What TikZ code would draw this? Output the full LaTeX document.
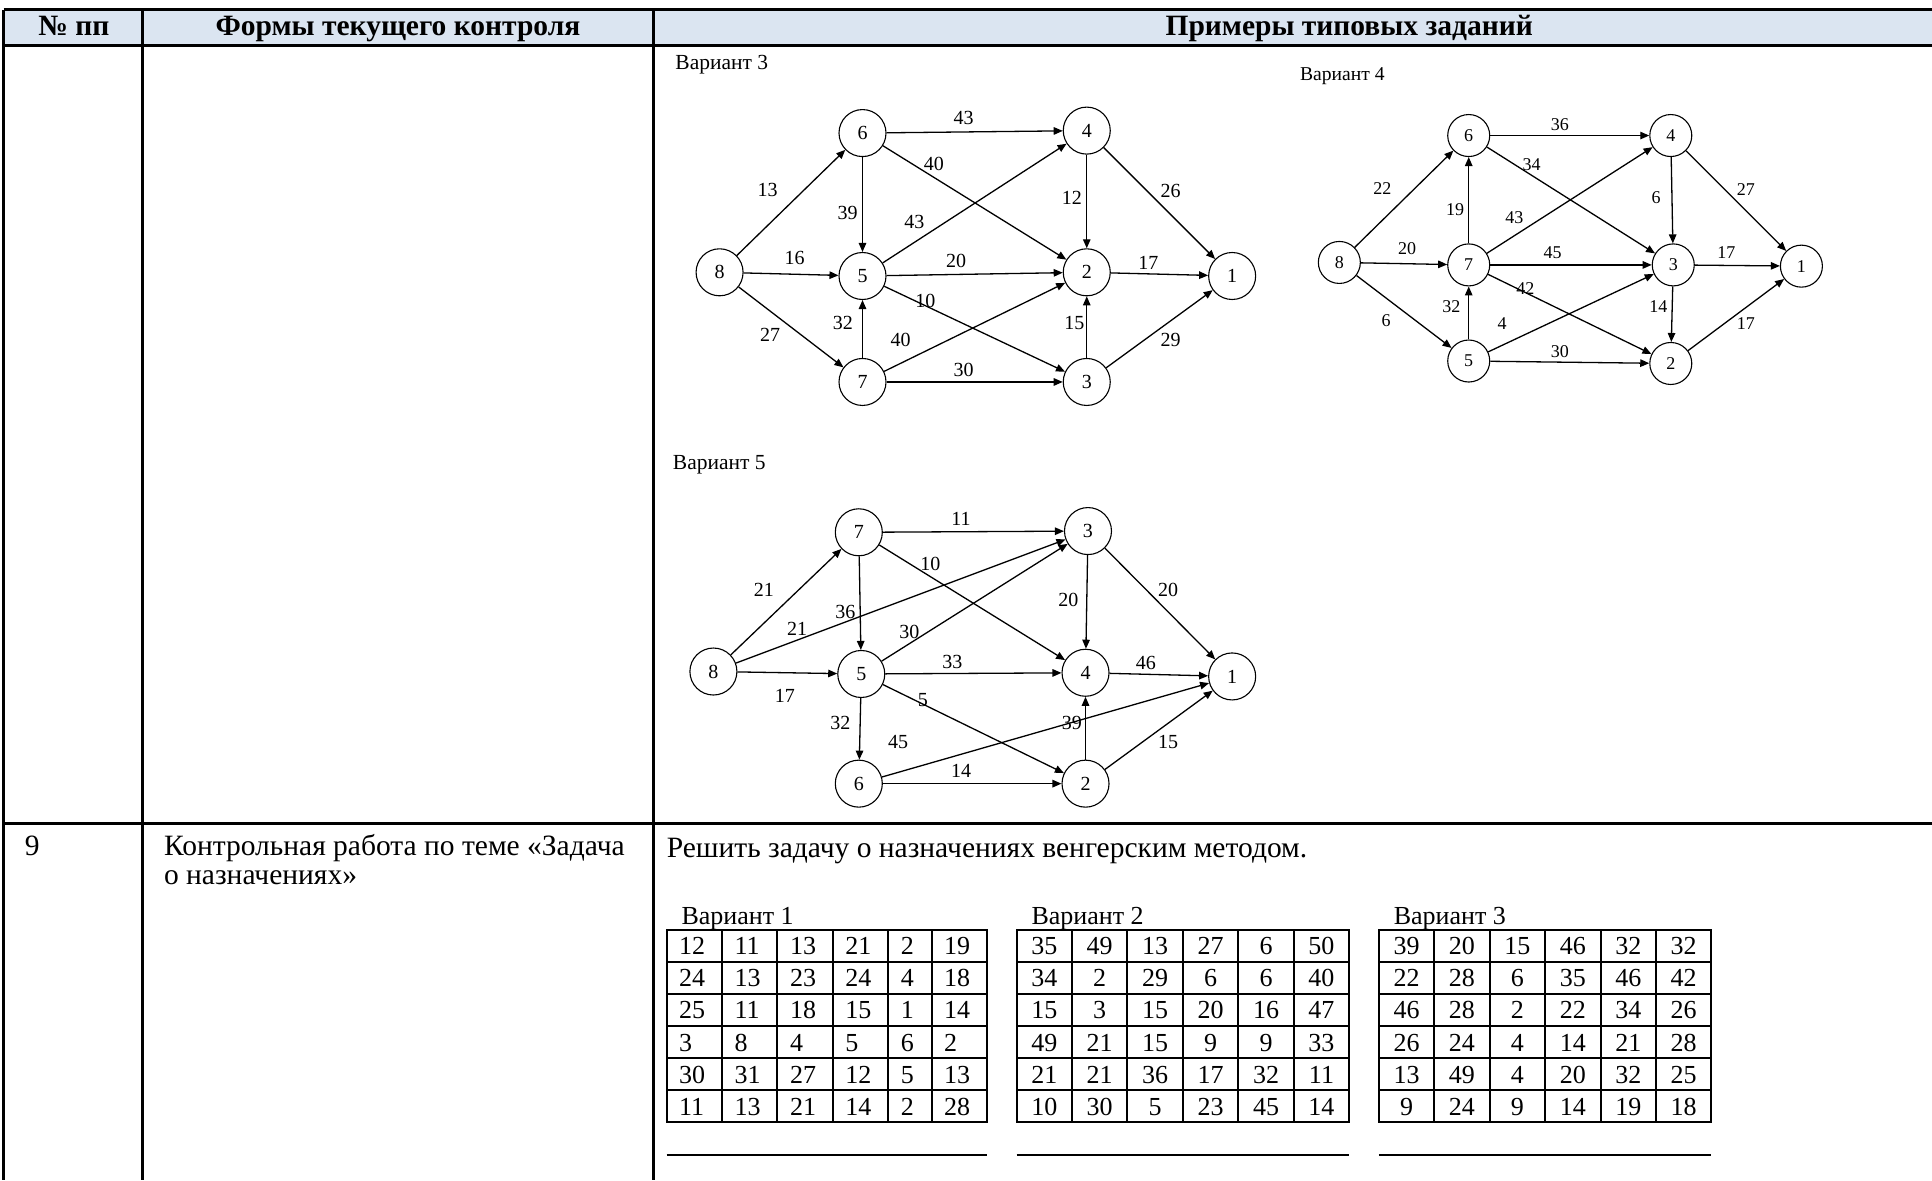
\documentclass[tikz,border=0pt]{standalone}
\usepackage{fontspec}
\setmainfont{Liberation Serif}
\usetikzlibrary{arrows.meta}
\definecolor{hdr}{HTML}{DBE5F1}
\begin{document}
\begin{tikzpicture}[x=1.232pt,y=-1.232pt,
 frame/.style={line width=3pt},
 vx/.style={circle,draw,line width=1.1pt,minimum size=47pt,inner sep=0pt,font=\fontsize{20}{20}\selectfont},
 vxs/.style={vx,minimum size=42pt,font=\fontsize{18}{18}\selectfont},
 arr/.style={line width=1.3pt,-{Triangle[length=9pt,width=7.5pt]}},
 lbl/.style={inner sep=0pt,font=\fontsize{20}{20}\selectfont},
 lbls/.style={inner sep=0pt,font=\fontsize{18}{18}\selectfont},
 vartitle/.style={inner sep=0pt,anchor=base west,font=\fontsize{21.5}{21.5}\selectfont},
 vartitles/.style={vartitle,font=\fontsize{19.6}{19.6}\selectfont},
 hd/.style={font=\bfseries\fontsize{29.5}{29.5}\selectfont,anchor=base,inner sep=0pt},
 body/.style={font=\fontsize{29.5}{30}\selectfont,anchor=base west,inner sep=0pt},
 tabtitle/.style={font=\fontsize{26}{26}\selectfont,anchor=base west,inner sep=0pt},
 cellc/.style={font=\fontsize{26}{26}\selectfont,anchor=base,inner sep=0pt},
 celll/.style={cellc,anchor=base west},
 gridline/.style={line width=2pt}
]
\useasboundingbox (0,0) rectangle (1568,958);
% ---------- main table ----------
\fill[hdr] (3,8) rectangle (1568,37);
\draw[frame] (3,8) -- (1568,8);
\draw[frame] (3,37) -- (1568,37);
\draw[frame] (3,668) -- (1568,668);
\draw[frame] (3,8) -- (3,958);
\draw[frame] (116,8) -- (116,958);
\draw[frame] (530,8) -- (530,958);
\node[hd] (h1) at (60,29) {№ пп};
\node[hd] (h2) at (323,29) {Формы текущего контроля};
\node[hd] (h3) at (1095,29) {Примеры типовых заданий};
\node[body] (n9) at (20,694) {9};
\node[body] (t9a) at (133,694) {Контрольная работа по теме «Задача};
\node[body] (t9b) at (133,718) {о назначениях»};
\node[body] (task) at (541,696) {Решить задачу о назначениях венгерским методом.};
% ---------- Variant 3 graph ----------
\node[vartitle] (v3) at (548,56) {Вариант 3};
\foreach \n/\x/\y in {8/584/221,6/700/108,5/700/224,7/700/310,4/882/106,2/882/221,3/882/310,1/1000/224}
  \node[vx] (g3-\n) at (\x,\y) {\n};
\foreach \a/\b in {8/6,8/5,8/7,6/4,6/2,6/5,5/4,5/2,5/3,7/5,7/2,7/3,4/2,4/1,2/1,3/2,3/1}
  \draw[arr] (g3-\a) -- (g3-\b);
\foreach \x/\y/\t [count=\k] in {782/96/43,758/133/40,623/154/13,688/173/39,742/180/43,870/161/12,950/155/26,645/209/16,776/212/20,932/213/17,751/244/10,684/262/32,731/276/40,872/262/15,950/276/29,625/272/27,782/300/30}
  \node[lbl] (l3-\k) at (\x,\y) {\t};
% ---------- Variant 4 graph ----------
\node[vartitles] (v4) at (1055,65) {Вариант 4};
\foreach \n/\x/\y in {8/1087/213,6/1192/110,7/1192/215,5/1192/293,4/1356/110,3/1358/215,2/1356/295,1/1462/216}
  \node[vxs] (g4-\n) at (\x,\y) {\n};
\foreach \a/\b in {8/6,8/7,8/5,6/4,6/3,7/6,7/4,7/3,7/2,5/7,5/3,5/2,4/3,4/1,3/1,3/2,2/1}
  \draw[arr] (g4-\a) -- (g4-\b);
\foreach \x/\y/\t [count=\k] in {1266/101/36,1243/134/34,1122/153/22,1181/170/19,1229/177/43,1344/160/6,1417/154/27,1142/202/20,1260/205/45,1401/205/17,1238/234/42,1178/249/32,1346/249/14,1219/263/4,1125/260/6,1417/263/17,1266/285/30}
  \node[lbls] (l4-\k) at (\x,\y) {\t};
% ---------- Variant 5 graph ----------
\node[vartitle] (v5) at (546,381) {Вариант 5};
\foreach \n/\x/\y in {8/579/545,7/697/432,5/699/547,6/697/636,3/883/431,4/881/546,2/881/636,1/1000/549}
  \node[vx] (g5-\n) at (\x,\y) {\n};
\foreach \a/\b in {8/7,8/3,8/5,7/3,7/4,7/5,5/3,5/4,5/2,5/6,3/4,3/1,4/1,6/1,6/2,2/4,2/1}
  \draw[arr] (g5-\a) -- (g5-\b);
\foreach \x/\y/\t [count=\k] in {780/421/11,755/458/10,620/479/21,647/510/21,686/497/36,738/513/30,867/487/20,948/479/20,637/565/17,773/537/33,930/538/46,749/568/5,682/587/32,729/602/45,870/587/39,948/602/15,780/626/14}
  \node[lbl] (l5-\k) at (\x,\y) {\t};
% ---------- assignment tables ----------
\node[tabtitle] (tv1) at (553,750) {Вариант 1};
\node[tabtitle] (tv2) at (837,750) {Вариант 2};
\node[tabtitle] (tv3) at (1131,750) {Вариант 3};
% table 1
\draw[gridline] (541,755) rectangle (801,911);
\foreach \x in {586,631,676,721,756} \draw[gridline] (\x,755) -- (\x,911);
\foreach \y in {781,807,833,859,885} \draw[gridline] (541,\y) -- (801,\y);
\foreach \x/\a/\b/\c/\d/\e/\f [count=\k] in {551/12/24/25/3/30/11,596/11/13/11/8/31/13,641/13/23/18/4/27/21,686/21/24/15/5/12/14,731/2/4/1/6/5/2,766/19/18/14/2/13/28}{
  \node[celll] (a\k r1) at (\x,775) {\a};
  \node[celll] (a\k r2) at (\x,801) {\b};
  \node[celll] (a\k r3) at (\x,827) {\c};
  \node[celll] (a\k r4) at (\x,853) {\d};
  \node[celll] (a\k r5) at (\x,879) {\e};
  \node[celll] (a\k r6) at (\x,905) {\f};
}
% table 2
\draw[gridline] (825,755) rectangle (1095,911);
\foreach \x in {870,915,960,1005,1050} \draw[gridline] (\x,755) -- (\x,911);
\foreach \y in {781,807,833,859,885} \draw[gridline] (825,\y) -- (1095,\y);
\foreach \x/\a/\b/\c/\d/\e/\f [count=\k] in {847.5/35/34/15/49/21/10,892.5/49/2/3/21/21/30,937.5/13/29/15/15/36/5,982.5/27/6/20/9/17/23,1027.5/6/6/16/9/32/45,1072.5/50/40/47/33/11/14}{
  \node[cellc] (b\k r1) at (\x,775) {\a};
  \node[cellc] (b\k r2) at (\x,801) {\b};
  \node[cellc] (b\k r3) at (\x,827) {\c};
  \node[cellc] (b\k r4) at (\x,853) {\d};
  \node[cellc] (b\k r5) at (\x,879) {\e};
  \node[cellc] (b\k r6) at (\x,905) {\f};
}
% table 3
\draw[gridline] (1119,755) rectangle (1389,911);
\foreach \x in {1164,1209,1254,1299,1344} \draw[gridline] (\x,755) -- (\x,911);
\foreach \y in {781,807,833,859,885} \draw[gridline] (1119,\y) -- (1389,\y);
\foreach \x/\a/\b/\c/\d/\e/\f [count=\k] in {1141.5/39/22/46/26/13/9,1186.5/20/28/28/24/49/24,1231.5/15/6/2/4/4/9,1276.5/46/35/22/14/20/14,1321.5/32/46/34/21/32/19,1366.5/32/42/26/28/25/18}{
  \node[cellc] (c\k r1) at (\x,775) {\a};
  \node[cellc] (c\k r2) at (\x,801) {\b};
  \node[cellc] (c\k r3) at (\x,827) {\c};
  \node[cellc] (c\k r4) at (\x,853) {\d};
  \node[cellc] (c\k r5) at (\x,879) {\e};
  \node[cellc] (c\k r6) at (\x,905) {\f};
}
\draw[gridline] (541,937) -- (801,937);
\draw[gridline] (825,937) -- (1095,937);
\draw[gridline] (1119,937) -- (1389,937);
\end{tikzpicture}
\end{document}
